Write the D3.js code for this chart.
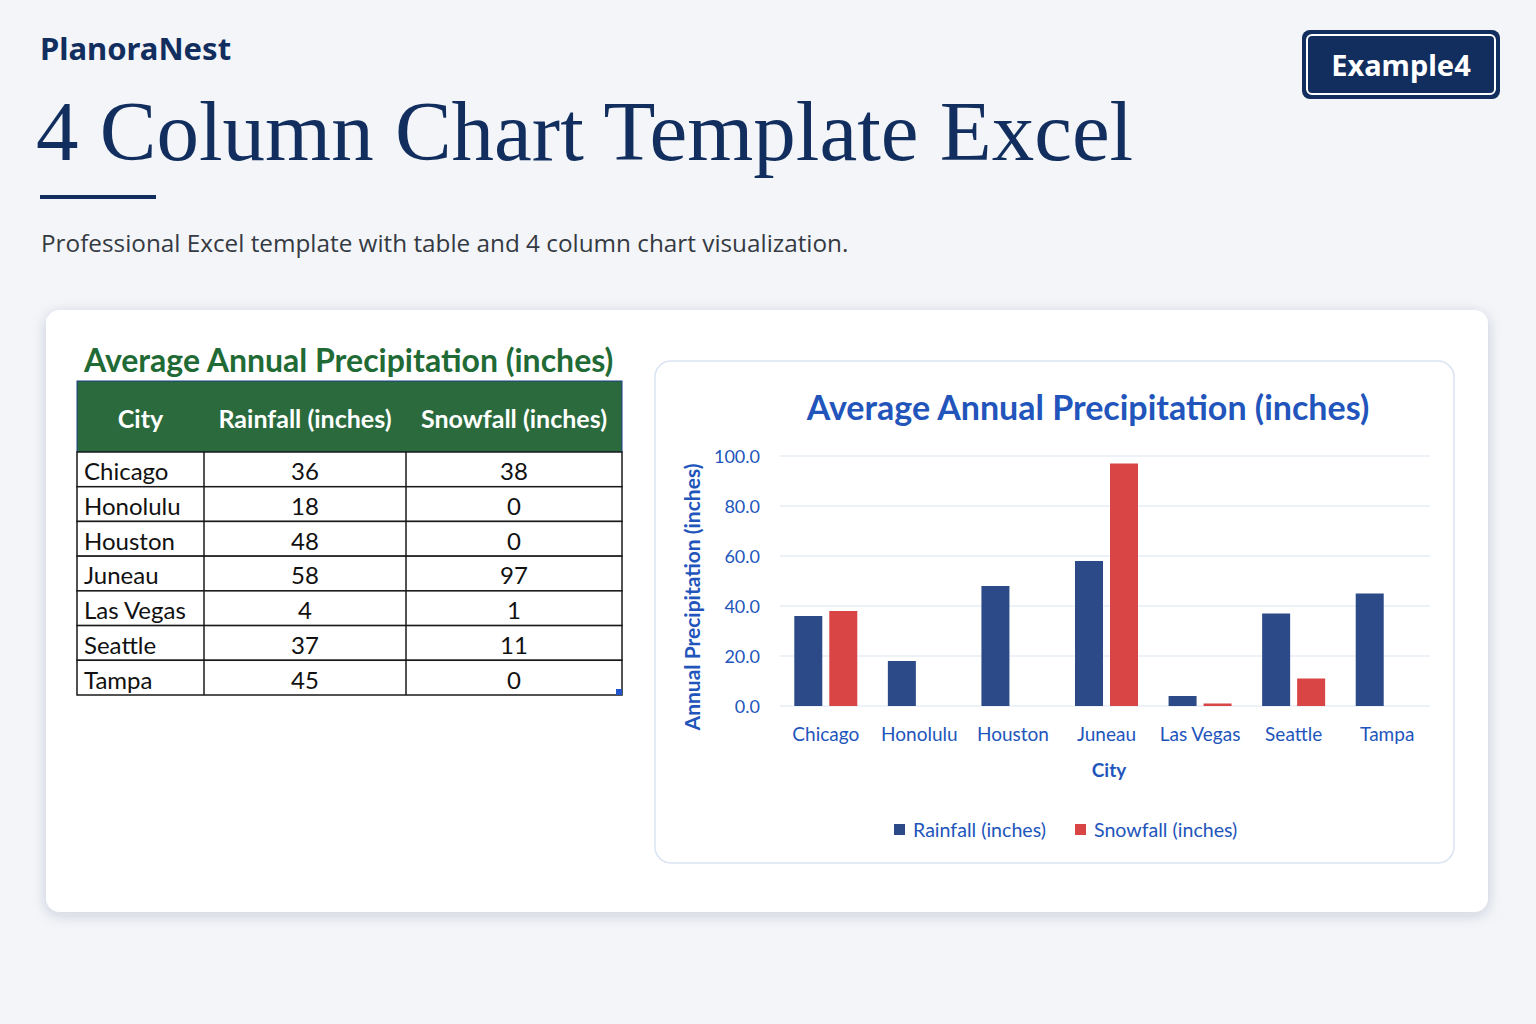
<!DOCTYPE html>
<html>
<head>
<meta charset="utf-8">
<script src="https://cdn.jsdelivr.net/npm/d3@7"></script>
<style>
  html, body { margin: 0; padding: 0; background: #f3f5f9; }
  svg { display: block; }
</style>
</head>
<body>
<div id="page"></div>
<script>
// chart data
const cities = ["Chicago", "Honolulu", "Houston", "Juneau", "Las Vegas", "Seattle", "Tampa"];
const rainfall = [36, 18, 48, 58, 4, 37, 45];
const snowfall = [38, 0, 0, 97, 1, 11, 0];
const seriesNames = ["Rainfall (inches)", "Snowfall (inches)"];
const yTicks = [0, 20, 40, 60, 80, 100];

const W = 1536, H = 1024;
const navy = "#112e5e";
const green = "#2a6a3d";
const blue = "#2255bb";
const rainColor = "#2c4a87";
const snowColor = "#d94444";

const svg = d3.select("#page").append("svg")
  .attr("width", W)
  .attr("height", H);

const defs = svg.append("defs");
const shadow = defs.append("filter").attr("id", "shadow")
  .attr("x", "-5%").attr("y", "-5%").attr("width", "110%").attr("height", "115%");
shadow.append("feDropShadow")
  .attr("dx", 0).attr("dy", 3).attr("stdDeviation", 7)
  .attr("flood-color", "#1b2a45").attr("flood-opacity", 0.18);

svg.append("rect").attr("width", W).attr("height", H).attr("fill", "#f3f5f9");

// header
svg.append("text")
  .attr("x", 40).attr("y", 60)
  .style("font-family", "Noto Sans").style("font-weight", 700).style("font-size", "31px")
  .attr("fill", navy)
  .text("PlanoraNest");

svg.append("text")
  .attr("x", 36).attr("y", 160)
  .style("font-family", "Liberation Serif").style("font-size", "85px")
  .attr("fill", navy)
  .text("4 Column Chart Template Excel");

svg.append("rect")
  .attr("x", 40).attr("y", 195).attr("width", 116).attr("height", 4)
  .attr("fill", navy);

svg.append("text")
  .attr("x", 41).attr("y", 252)
  .style("font-family", "Open Sans").style("font-size", "24.3px")
  .attr("fill", "#353a42")
  .text("Professional Excel template with table and 4 column chart visualization.");

// badge
const badge = svg.append("g");
badge.append("rect")
  .attr("x", 1302).attr("y", 30).attr("width", 198).attr("height", 69).attr("rx", 8)
  .attr("fill", navy);
badge.append("rect")
  .attr("x", 1307).attr("y", 35).attr("width", 188).attr("height", 59).attr("rx", 5)
  .attr("fill", "none").attr("stroke", "#ffffff").attr("stroke-width", 2);
badge.append("text")
  .attr("x", 1401).attr("y", 76)
  .attr("text-anchor", "middle")
  .style("font-family", "Noto Sans").style("font-weight", 700).style("font-size", "29px")
  .attr("fill", "#ffffff")
  .text("Example4");

// card
svg.append("rect")
  .attr("x", 46).attr("y", 310).attr("width", 1442).attr("height", 602).attr("rx", 14)
  .attr("fill", "#ffffff")
  .attr("filter", "url(#shadow)");

// ---- table ----
const tableFont = "Lato";
svg.append("text")
  .attr("x", 84).attr("y", 372)
  .style("font-family", tableFont).style("font-weight", 700).style("font-size", "32px")
  .attr("fill", "#1f6a35")
  .text("Average Annual Precipitation (inches)");

const colX = [77, 204, 406, 622];
const headerTop = 381, headerBottom = 452;
const rowY = d3.scaleBand().domain(cities).range([headerBottom, 695]);

const table = svg.append("g");
table.append("rect")
  .attr("x", colX[0]).attr("y", headerTop)
  .attr("width", colX[3] - colX[0]).attr("height", headerBottom - headerTop)
  .attr("fill", green).attr("stroke", "#1c3f8a").attr("stroke-width", 1);

const headers = ["City", seriesNames[0], seriesNames[1]];
table.selectAll("text.head")
  .data(headers)
  .join("text")
  .attr("class", "head")
  .attr("x", (d, i) => (colX[i] + colX[i + 1]) / 2)
  .attr("y", (headerTop + headerBottom) / 2 + 11)
  .attr("text-anchor", "middle")
  .style("font-family", tableFont).style("font-weight", 700).style("font-size", "25px")
  .attr("fill", "#ffffff")
  .text(d => d);

const rows = table.selectAll("g.row")
  .data(cities)
  .join("g")
  .attr("class", "row")
  .attr("transform", d => `translate(0,${rowY(d)})`);

rows.append("rect")
  .attr("x", colX[0]).attr("width", colX[3] - colX[0])
  .attr("height", rowY.bandwidth())
  .attr("fill", "#ffffff").attr("stroke", "#1a1a1a").attr("stroke-width", 1.5);

const cellY = rowY.bandwidth() / 2 + 11;
rows.append("text")
  .attr("x", colX[0] + 7).attr("y", cellY)
  .style("font-family", tableFont).style("font-size", "24px")
  .attr("fill", "#111")
  .text(d => d);

rows.append("text")
  .attr("x", (colX[1] + colX[2]) / 2).attr("y", cellY)
  .attr("text-anchor", "middle")
  .style("font-family", tableFont).style("font-size", "24px")
  .attr("fill", "#111")
  .text((d, i) => rainfall[i]);

rows.append("text")
  .attr("x", (colX[2] + colX[3]) / 2).attr("y", cellY)
  .attr("text-anchor", "middle")
  .style("font-family", tableFont).style("font-size", "24px")
  .attr("fill", "#111")
  .text((d, i) => snowfall[i]);

// column separators
table.selectAll("line.sep")
  .data([colX[1], colX[2]])
  .join("line")
  .attr("class", "sep")
  .attr("x1", d => d).attr("x2", d => d)
  .attr("y1", headerBottom).attr("y2", 695)
  .attr("stroke", "#1a1a1a").attr("stroke-width", 1.5);

// excel fill handle
table.append("rect")
  .attr("x", colX[3] - 6).attr("y", 689).attr("width", 6).attr("height", 6)
  .attr("fill", "#2255cc");

// ---- chart ----
svg.append("rect")
  .attr("x", 655).attr("y", 361).attr("width", 799).attr("height", 502).attr("rx", 16)
  .attr("fill", "#ffffff").attr("stroke", "#d9e3f2").attr("stroke-width", 1.5);

const chartFont = "Lato";
svg.append("text")
  .attr("x", 1088).attr("y", 420)
  .attr("text-anchor", "middle")
  .style("font-family", chartFont).style("font-weight", 700).style("font-size", "34px")
  .attr("fill", blue)
  .text("Average Annual Precipitation (inches)");

const plot = { left: 780, right: 1430, top: 456, bottom: 706 };

const x = d3.scaleBand().domain(cities).range([779, 1434]);
const y = d3.scaleLinear().domain([0, 100]).range([plot.bottom, plot.top]);
const barW = 28, barGap = 7;

// gridlines
svg.append("g")
  .selectAll("line")
  .data(yTicks)
  .join("line")
  .attr("x1", plot.left).attr("x2", plot.right)
  .attr("y1", d => y(d)).attr("y2", d => y(d))
  .attr("stroke", "#dbe5f4").attr("stroke-width", 1.2);

// y axis labels
const yAxis = svg.append("g")
  .attr("transform", `translate(${plot.left - 20},0)`)
  .call(d3.axisLeft(y).tickValues(yTicks).tickFormat(d3.format(".1f")).tickSize(0).tickPadding(0));
yAxis.select(".domain").remove();
yAxis.selectAll("text")
  .attr("dy", "0.35em")
  .style("font-family", chartFont).style("font-size", "18px")
  .attr("fill", blue);

// bars
const groups = svg.append("g")
  .selectAll("g")
  .data(cities)
  .join("g")
  .attr("transform", d => `translate(${x(d) + x.bandwidth() / 2},0)`);

groups.append("rect")
  .attr("x", -barW - barGap / 2)
  .attr("width", barW)
  .attr("y", (d, i) => y(rainfall[i]))
  .attr("height", (d, i) => y(0) - y(rainfall[i]))
  .attr("fill", rainColor);

groups.append("rect")
  .attr("x", barGap / 2)
  .attr("width", barW)
  .attr("y", (d, i) => y(snowfall[i]))
  .attr("height", (d, i) => y(0) - y(snowfall[i]))
  .attr("fill", snowColor);

// x axis labels
const xAxis = svg.append("g")
  .attr("transform", `translate(0,${plot.bottom})`)
  .call(d3.axisBottom(x).tickSize(0).tickPadding(0));
xAxis.select(".domain").remove();
xAxis.selectAll("text")
  .attr("y", 35).attr("dy", 0)
  .style("font-family", chartFont).style("font-size", "19px")
  .attr("fill", blue);

// axis titles
svg.append("text")
  .attr("x", 1109).attr("y", 777)
  .attr("text-anchor", "middle")
  .style("font-family", chartFont).style("font-weight", 700).style("font-size", "19px")
  .attr("fill", blue)
  .text("City");

svg.append("text")
  .attr("transform", "translate(700,597) rotate(-90)")
  .attr("text-anchor", "middle")
  .style("font-family", chartFont).style("font-weight", 700).style("font-size", "21px")
  .attr("fill", blue)
  .text("Annual Precipitation (inches)");

// legend
const legend = svg.append("g")
  .selectAll("g")
  .data(seriesNames)
  .join("g")
  .attr("transform", (d, i) => `translate(${[894, 1075][i]},830)`);

legend.append("rect")
  .attr("x", 0).attr("y", -6).attr("width", 11).attr("height", 11)
  .attr("fill", (d, i) => [rainColor, snowColor][i]);

legend.append("text")
  .attr("x", 19).attr("y", 7)
  .style("font-family", chartFont).style("font-size", "19.6px")
  .attr("fill", blue)
  .text(d => d);
</script>
</body>
</html>
